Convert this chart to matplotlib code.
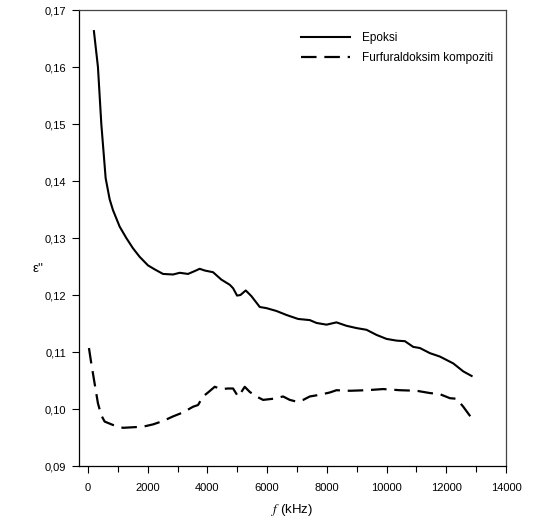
import matplotlib
matplotlib.use('Agg')
import matplotlib.pyplot as plt
from matplotlib.ticker import MultipleLocator, FuncFormatter

plt.rcParams['font.family'] = ['Liberation Sans', 'DejaVu Sans']
plt.rcParams['mathtext.fontset'] = 'stix'

# Epoksi (solid)
f_epoksi = [200, 335, 448, 593, 727, 838, 1062, 1285, 1508, 1732, 2011, 2235,
            2514, 2849, 3073, 3352, 3575, 3743, 3911, 4190, 4469, 4749, 4860,
            4994, 5106, 5285, 5475, 5754, 5978, 6313, 6648, 7039, 7430, 7654,
            7989, 8324, 8659, 8994, 9330, 9665, 10000, 10335, 10615, 10894,
            11117, 11453, 11788, 12235, 12570, 12849]
e_epoksi = [0.1663, 0.1600, 0.1500, 0.1405, 0.1368, 0.1349, 0.1320, 0.1300,
            0.1282, 0.1267, 0.1252, 0.1245, 0.1237, 0.1236, 0.1239, 0.1237,
            0.1242, 0.1246, 0.1243, 0.1240, 0.1227, 0.1218, 0.1212, 0.1199,
            0.1200, 0.1208, 0.1198, 0.1179, 0.1177, 0.1172, 0.1165, 0.1158,
            0.1156, 0.1151, 0.1148, 0.1152, 0.1146, 0.1142, 0.1139, 0.1130,
            0.1123, 0.1120, 0.1119, 0.1109, 0.1107, 0.1098, 0.1092, 0.1080,
            0.1066, 0.1058]

# Furfuraldoksim kompoziti (dashed)
f_komp = [34, 112, 223, 335, 447, 559, 838, 1173, 1508, 1844, 2179, 2514, 2849,
          3184, 3520, 3687, 3855, 4022, 4246, 4469, 4693, 4860, 5028, 5140,
          5251, 5419, 5642, 5866, 6201, 6536, 6760, 6983, 7207, 7430, 7765,
          8101, 8324, 8771, 9330, 9888, 10447, 11006, 11453, 11788, 12123,
          12346, 12570, 12849]
e_komp = [0.1107, 0.1080, 0.1045, 0.1010, 0.0989, 0.0978, 0.0972, 0.0967,
          0.0968, 0.0969, 0.0973, 0.0979, 0.0987, 0.0994, 0.1004, 0.1007,
          0.1022, 0.1029, 0.1039, 0.1035, 0.1036, 0.1036, 0.1022, 0.1030,
          0.1039, 0.1030, 0.1022, 0.1016, 0.1018, 0.1022, 0.1016, 0.1013,
          0.1016, 0.1022, 0.1025, 0.1029, 0.1033, 0.1032, 0.1033, 0.1035,
          0.1033, 0.1032, 0.1028, 0.1026, 0.1019, 0.1018, 0.1004, 0.0984]

fig = plt.figure(figsize=(5.57, 5.28), dpi=100)
ax = fig.add_axes([0.1418, 0.1174, 0.7666, 0.8636])

ax.plot(f_epoksi, e_epoksi, color='black', lw=1.5, label='Epoksi')
ax.plot(f_komp, e_komp, color='black', lw=1.6, dashes=(7, 3.5),
        label='Furfuraldoksim kompoziti')

ax.set_xlim(-300, 14000)
ax.set_ylim(0.09, 0.17)
ax.xaxis.set_major_locator(MultipleLocator(2000))
ax.xaxis.set_minor_locator(MultipleLocator(1000))
ax.yaxis.set_major_locator(MultipleLocator(0.01))
ax.yaxis.set_major_formatter(FuncFormatter(lambda v, p: f'{v:.2f}'.replace('.', ',')))

ax.tick_params(axis='both', which='major', direction='out', length=5,
               width=0.8, labelsize=8, pad=4)
ax.tick_params(axis='x', which='minor', direction='out', length=4, width=0.8)
ax.tick_params(axis='x', pad=7)
for side in ['left', 'bottom']:
    ax.spines[side].set_linewidth(0.9)
for side in ['top', 'right']:
    ax.spines[side].set_linewidth(0.9)
    ax.spines[side].set_color('#444444')

ax.set_xlabel('$f$ (kHz)', fontsize=9.5, labelpad=7)
fig.text(0.068, 0.49, "ε''", fontsize=9.5, ha='center', va='center')

ax.legend(loc='upper right', frameon=False, fontsize=8.5, handlelength=4.2,
          handletextpad=1.0, labelspacing=0.7, bbox_to_anchor=(0.995, 0.975))

fig.savefig('out.png', dpi=100)
